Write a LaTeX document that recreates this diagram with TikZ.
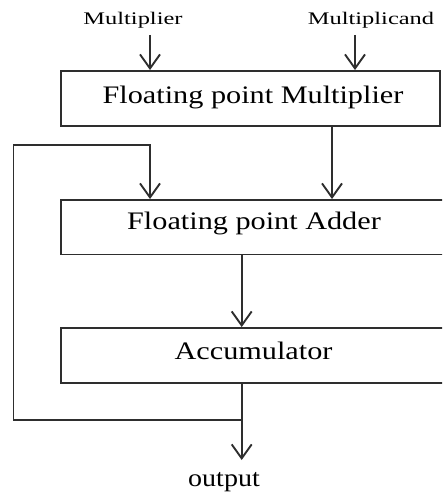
\documentclass[tikz,border=0pt]{standalone}
\usepackage{fontspec}
\setmainfont{Liberation Serif}
\usetikzlibrary{arrows.meta}
\definecolor{linegray}{HTML}{2E2E2E}
\newcommand{\boxfont}{\fontsize{25.2}{30}\selectfont}
\newcommand{\tagfont}{\fontsize{17.7}{21}\selectfont}
\newcommand{\outfont}{\fontsize{25}{30}\selectfont}
\tikzset{
  block/.style={draw=linegray, line width=1.9pt, rectangle, inner sep=0pt},
  blocktext/.style={anchor=base, inner sep=0pt, text=black},
  arr/.style={draw=linegray, line width=1.9pt,
    -{Straight Barb[length=14pt, width=20pt, line width=1.9pt]}},
  wire/.style={draw=linegray, line width=1.9pt}
}
\begin{document}
\begin{tikzpicture}[x=1pt, y=-1pt]
  \useasboundingbox (0,0) rectangle (442,492);
  \clip (0,0) rectangle (442,492);

  % blocks
  \node[block, minimum width=379.3pt, minimum height=55pt] (mul) at (250.35,98.5) {};
  \node[block, minimum width=390pt, minimum height=54.5pt] (add) at (255.7,227.25) {};
  \node[block, minimum width=390pt, minimum height=55.3pt] (acc) at (255.7,355.65) {};

  % block captions
  \node[blocktext] (multxt) at (253,103.3) {\boxfont\scalebox{1.2}[1]{Floating point Multiplier}};
  \node[blocktext] (addtxt) at (254,229.3) {\boxfont\scalebox{1.2}[1]{Floating point Adder}};
  \node[blocktext] (acctxt) at (253.5,359.3) {\boxfont\scalebox{1.2}[1]{Accumulator}};

  % operand labels and output
  \node[blocktext] (inA) at (133,25) {\tagfont\scalebox{1.38}[1]{Multiplier}};
  \node[blocktext] (inB) at (371,25) {\tagfont\scalebox{1.38}[1]{Multiplicand}};
  \node[blocktext] (out) at (224,486.7) {\outfont\scalebox{1.12}[1]{output}};

  % reference points for the wires
  \coordinate (aStart) at (150,35);
  \coordinate (bStart) at (355,35);
  \coordinate (xMid) at (332,0);
  \coordinate (xAcc) at (241.7,0);
  \coordinate (xFb) at (150,0);
  \coordinate (corner) at (13.5,145);
  \coordinate (junc) at (241.7,420);
  \coordinate (outEnd) at (241.7,460);

  % inputs to the multiplier
  \draw[arr] (aStart) -- (aStart |- mul.north);
  \draw[arr] (bStart) -- (bStart |- mul.north);

  % multiplier -> adder -> accumulator
  \draw[arr] (mul.south -| xMid) -- (add.north -| xMid);
  \draw[arr] (add.south -| xAcc) -- (acc.north -| xAcc);

  % accumulator output and feedback loop
  \draw[wire] (acc.south -| xAcc) -- (junc);
  \draw[arr] (junc) -- (outEnd);
  \draw[arr] (junc) -| (corner) -| (add.north -| xFb);
\end{tikzpicture}
\end{document}
